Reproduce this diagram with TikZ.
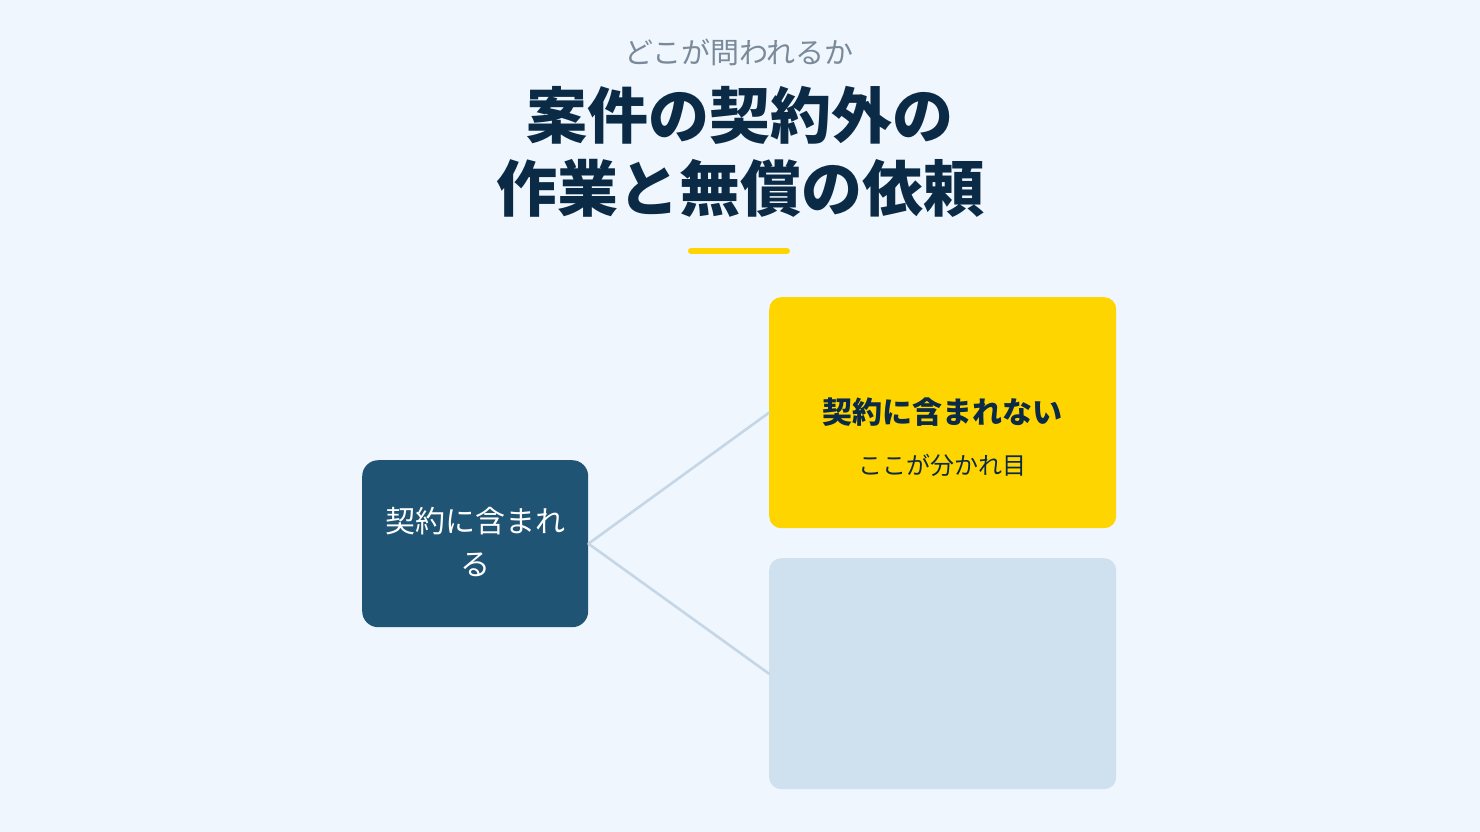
\documentclass[tikz,border=0pt]{standalone}
\usepackage{fontspec}
\setmainfont{Noto Sans CJK JP}
\usetikzlibrary{positioning}
\definecolor{bgc}{HTML}{EFF6FD}
\definecolor{navy}{HTML}{0B2A45}
\definecolor{greyt}{HTML}{7A8A9A}
\definecolor{deepb}{HTML}{1F5475}
\definecolor{yel}{HTML}{FFD500}
\definecolor{paleb}{HTML}{CFE0EF}
\definecolor{linec}{HTML}{C5D7E6}
\tikzset{
	card/.style={rounded corners=12pt, inner sep=0pt, anchor=north west},
	link/.style={linec, line width=2.6pt}
}
\begin{document}
\begin{tikzpicture}[x=1pt, y=-1pt, line join=round, line cap=round]
		\fill[bgc] (0,0) rectangle (1480,832);
		\useasboundingbox (0,0) rectangle (1480,832);
		%titre
		\node[greyt, font=\fontsize{29}{34}\selectfont] (sub) at (739,52) {どこが問われるか};
		\node[navy, font=\fontsize{61}{73}\selectfont\bfseries, align=center] (title) at (740,152) {案件の契約外の\\作業と無償の依頼};
		\draw[yel, line width=6pt] (691,251) coordinate (Y1) -- (787,251) coordinate (Y2);
		%boites
		\node[card, fill=deepb, minimum width=226pt, minimum height=167pt, rounded corners=16pt] (inc) at (362,460) {};
		\node[card, fill=yel, minimum width=347pt, minimum height=231pt] (exc) at (769,297) {};
		\node[card, fill=paleb, minimum width=347pt, minimum height=231pt] (gray) at (769,558) {};
		\node[white, font=\fontsize{30}{43}\selectfont, align=center] at ([yshift=2pt]inc.center) {契約に含まれ\\る};
		\node[navy, font=\fontsize{30}{36}\selectfont\bfseries] (excT) at (942,412) {契約に含まれない};
		\node[navy, font=\fontsize{24}{29}\selectfont] (excS) at (942,465) {ここが分かれ目};
		%liens
		\draw[link] (inc.east)--(exc.west) (inc.east)--(gray.west);
\end{tikzpicture}
\end{document}
